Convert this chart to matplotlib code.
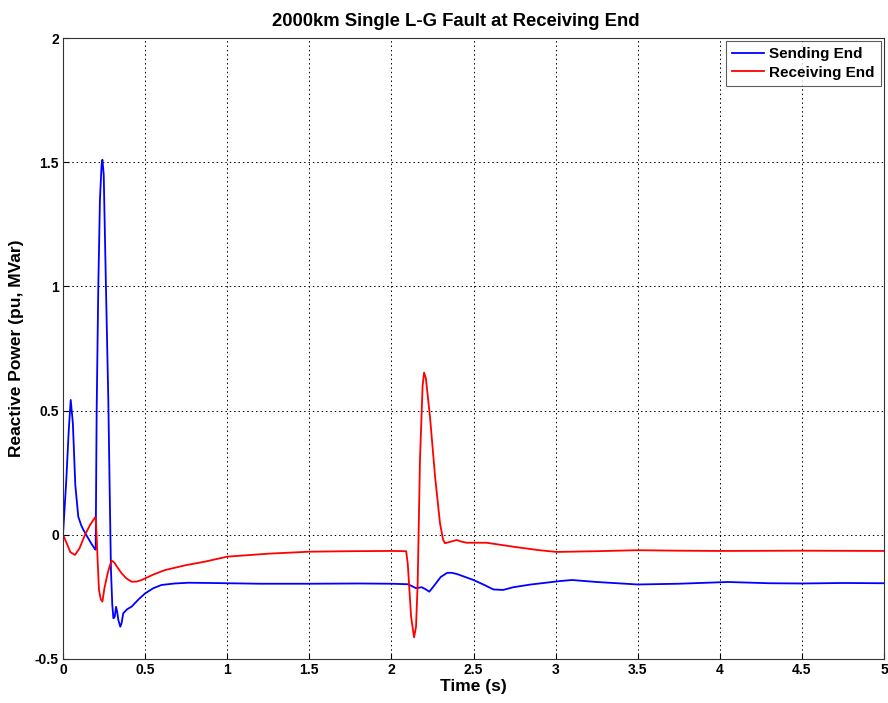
import matplotlib
matplotlib.use("Agg")
import matplotlib.pyplot as plt
from matplotlib import font_manager

# Time (s) and reactive power (pu) samples for each end of the line
t_send = [0.0, 0.02, 0.035, 0.047, 0.06, 0.075, 0.093, 0.11, 0.124, 0.15, 0.175, 0.195, 0.199,
          0.205, 0.215, 0.225, 0.235, 0.24, 0.248, 0.26, 0.276, 0.285, 0.292, 0.3, 0.307, 0.315,
          0.323, 0.33, 0.337, 0.349, 0.357, 0.367, 0.39, 0.418, 0.46, 0.5, 0.55, 0.6, 0.68, 0.763,
          0.9, 1.0, 1.2, 1.5, 1.8, 2.0, 2.1, 2.12, 2.15, 2.184, 2.205, 2.231, 2.26, 2.3, 2.34,
          2.367, 2.4, 2.45, 2.5, 2.56, 2.621, 2.68, 2.743, 2.85, 3.03, 3.1, 3.25, 3.5, 3.75,
          4.05, 4.3, 4.5, 4.75, 5.0]
q_send = [0.0, 0.22, 0.42, 0.543, 0.45, 0.2, 0.073, 0.04, 0.02, -0.01, -0.038, -0.058, -0.06,
          0.5, 1.0, 1.35, 1.49, 1.51, 1.45, 1.05, 0.54, 0.15, -0.14, -0.28, -0.336, -0.33,
          -0.29, -0.31, -0.343, -0.37, -0.355, -0.316, -0.3, -0.289, -0.26, -0.236, -0.215, -0.202,
          -0.196, -0.193, -0.194, -0.195, -0.197, -0.197, -0.196, -0.197, -0.199, -0.205, -0.215,
          -0.211, -0.218, -0.229, -0.205, -0.17, -0.153, -0.153, -0.158, -0.17, -0.182, -0.2,
          -0.22, -0.222, -0.211, -0.2, -0.186, -0.182, -0.19, -0.2, -0.197, -0.19, -0.195,
          -0.196, -0.194, -0.195]

t_recv = [0.0, 0.02, 0.045, 0.073, 0.1, 0.134, 0.165, 0.195, 0.2, 0.205, 0.212, 0.219, 0.23,
          0.24, 0.252, 0.262, 0.272, 0.285, 0.296, 0.305, 0.313, 0.33, 0.357, 0.385, 0.418, 0.45,
          0.479, 0.55, 0.621, 0.75, 0.865, 1.0, 1.25, 1.5, 1.75, 2.0, 2.09, 2.1, 2.12, 2.138,
          2.15, 2.16, 2.174, 2.19, 2.199, 2.21, 2.235, 2.266, 2.296, 2.315, 2.326, 2.36, 2.398,
          2.43, 2.459, 2.58, 2.743, 2.9, 3.007, 3.25, 3.5, 3.75, 4.0, 4.5, 5.0]
q_recv = [0.0, -0.03, -0.07, -0.081, -0.055, 0.0, 0.04, 0.07, 0.06, -0.008, -0.12, -0.222,
          -0.26, -0.269, -0.216, -0.185, -0.155, -0.125, -0.104, -0.108, -0.112, -0.13, -0.155,
          -0.175, -0.189, -0.188, -0.182, -0.16, -0.142, -0.122, -0.108, -0.088, -0.076, -0.068,
          -0.066, -0.065, -0.066, -0.12, -0.33, -0.413, -0.37, -0.195, 0.301, 0.6, 0.653, 0.63,
          0.475, 0.234, 0.046, -0.02, -0.034, -0.028, -0.021, -0.028, -0.032, -0.032, -0.048,
          -0.062, -0.069, -0.066, -0.062, -0.064, -0.065, -0.064, -0.065]

x_ticks = [0, 0.5, 1, 1.5, 2, 2.5, 3, 3.5, 4, 4.5, 5]
x_tick_labels = ["0", "0.5", "1", "1.5", "2", "2.5", "3", "3.5", "4", "4.5", "5"]
y_ticks = [-0.5, 0, 0.5, 1, 1.5, 2]
y_tick_labels = ["-0.5", "0", "0.5", "1", "1.5", "2"]

installed = {f.name for f in font_manager.fontManager.ttflist}
family = "Liberation Sans Narrow" if "Liberation Sans Narrow" in installed else "Liberation Sans"
plt.rcParams["font.family"] = [family, "DejaVu Sans"]
plt.rcParams["font.weight"] = "bold"
label_family = ["Liberation Sans", "DejaVu Sans"]

fig = plt.figure(figsize=(8.88, 7.03), dpi=100)
ax = fig.add_axes([63 / 888, 1 - 659 / 703, (884 - 63) / 888, (659 - 38) / 703])

ax.plot(t_send, q_send, color="#0000ff", lw=1.3, label="Sending End")
ax.plot(t_recv, q_recv, color="#ff0000", lw=1.3, label="Receiving End")

ax.set_xlim(0, 5)
ax.set_ylim(-0.5, 2)
ax.set_xticks(x_ticks)
ax.set_xticklabels(x_tick_labels)
ax.set_yticks(y_ticks)
ax.set_yticklabels(y_tick_labels)
ax.tick_params(direction="in", length=4, width=0.8, labelsize=10, pad=3)
for lbl in ax.get_xticklabels() + ax.get_yticklabels():
    lbl.set_fontweight("bold")
ax.grid(True, color="black", linestyle=(0, (1.5, 3)), linewidth=0.7)
for s in ax.spines.values():
    s.set_color("#333333")
    s.set_linewidth(0.8)

ax.set_title("2000km Single L-G Fault at Receiving End", fontsize=13.3, fontweight="bold", pad=9,
             family=label_family, x=0.479)
ax.set_xlabel("Time (s)", fontsize=12.5, fontweight="bold", labelpad=1, family=label_family)
ax.set_ylabel("Reactive Power (pu, MVar)", fontsize=12.5, fontweight="bold", labelpad=8,
              family=label_family)

leg = ax.legend(loc="upper right", frameon=True, fancybox=False,
                borderaxespad=0.2, handlelength=2.1, handletextpad=0.35, borderpad=0.4,
                labelspacing=0.3, prop={"family": label_family, "weight": "bold", "size": 11})
leg.get_frame().set_edgecolor("#333333")
leg.get_frame().set_linewidth(0.8)

fig.savefig("out.png", dpi=100, facecolor="white")
